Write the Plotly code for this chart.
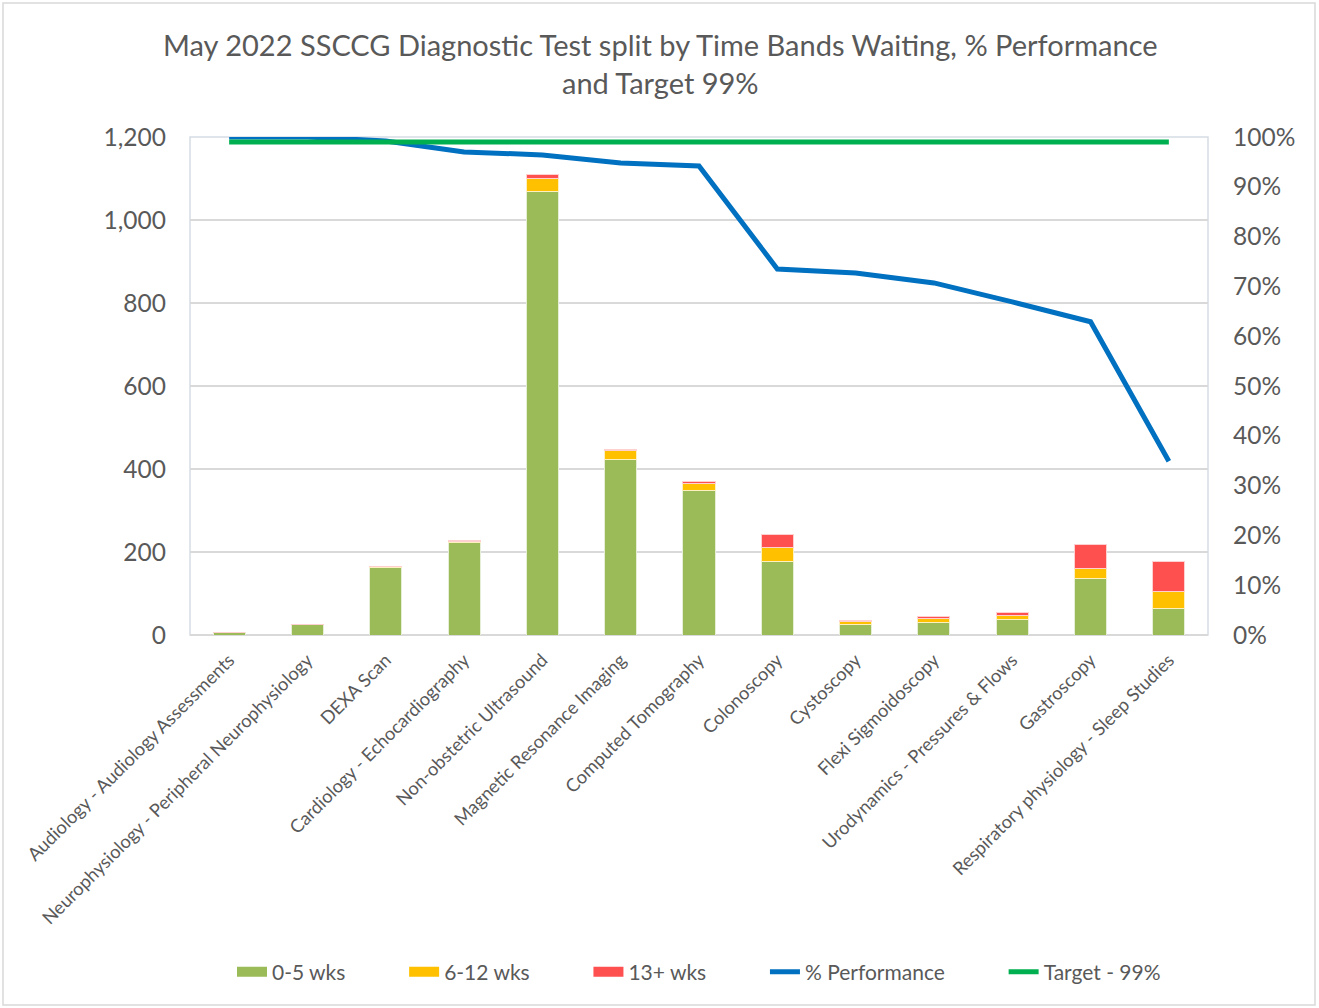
import plotly.graph_objects as go

categories = [
    "Audiology - Audiology Assessments",
    "Neurophysiology - Peripheral Neurophysiology",
    "DEXA Scan",
    "Cardiology - Echocardiography",
    "Non-obstetric Ultrasound",
    "Magnetic Resonance Imaging",
    "Computed Tomography",
    "Colonoscopy",
    "Cystoscopy",
    "Flexi Sigmoidoscopy",
    "Urodynamics - Pressures & Flows",
    "Gastroscopy",
    "Respiratory physiology - Sleep Studies",
]
wks_0_5 = [5, 26, 162, 222, 1069, 424, 349, 177, 25, 29, 38, 137, 63]
wks_6_12 = [0, 0, 2, 3, 31, 20, 16, 33, 7, 11, 9, 24, 43]
wks_13p = [0, 0, 2, 3, 10, 4, 6, 33, 4, 4, 7, 56, 71]
performance = [100, 100, 99.2, 97.0, 96.4, 94.8, 94.2, 73.5, 72.7, 70.7, 66.9, 62.9, 34.9]
target = [99] * len(categories)
series_names = ["0-5 wks", "6-12 wks", "13+ wks", "% Performance", "Target - 99%"]
title_text = "May 2022 SSCCG Diagnostic Test split by Time Bands Waiting, % Performance<br>and Target 99%"

font_family = "Lato"
grey = "#595959"
c_green, c_yellow, c_red = "#9BBB59", "#FFC000", "#FF5050"
pad = "\u00a0" * 10  # spacing between legend entries

fig = go.Figure()
bar_specs = [(series_names[0], wks_0_5, c_green, "#E6EED5"),
             (series_names[1], wks_6_12, c_yellow, "#FFF0C0"),
             (series_names[2], wks_13p, c_red, "#FFD0D0")]
for name, vals, col, edge in bar_specs:
    fig.add_trace(go.Bar(x=categories, y=vals, name=name, legendgroup=name, showlegend=False,
                         marker=dict(color=col, line=dict(color=edge, width=1))))
# legend entries with wide rectangular swatches for the bar series
for name, vals, col, edge in bar_specs:
    fig.add_trace(go.Scatter(x=[None], y=[None], name=name + pad, legendgroup=name, mode="lines",
                             line=dict(color=col, width=12)))
fig.add_trace(go.Scatter(x=categories, y=performance, name=series_names[3] + pad, yaxis="y2",
                         mode="lines", line=dict(color="#0070C0", width=5)))
fig.add_trace(go.Scatter(x=categories, y=target, name=series_names[4], yaxis="y2",
                         mode="lines", line=dict(color="#00B050", width=5)))

fig.update_layout(
    width=1319, height=1008,
    margin=dict(l=190, r=111, t=137, b=373),
    barmode="stack", bargap=0.59,
    paper_bgcolor="white", plot_bgcolor="white",
    font=dict(family=font_family, color=grey),
    xaxis=dict(range=[-0.5, 12.5], tickangle=-45, tickfont=dict(size=18.3, color=grey),
               showgrid=False, showline=False, ticks="", automargin=False,
               ticklabelstandoff=10),
    yaxis=dict(range=[0, 1200], dtick=200, tickformat=",", tickfont=dict(size=24.5, color=grey),
               showgrid=True, gridcolor="#D9D9D9", gridwidth=2, zeroline=True,
               zerolinecolor="#D9D9D9", zerolinewidth=2, ticks="", automargin=False,
               ticklabelstandoff=23),
    yaxis2=dict(range=[0, 100], dtick=10, ticksuffix="%", overlaying="y", side="right",
                tickfont=dict(size=24.5, color=grey), showgrid=False, zeroline=False,
                ticks="", automargin=False, ticklabelstandoff=24),
    legend=dict(orientation="h", x=0.5, xanchor="center", y=-0.677, yanchor="middle",
                font=dict(size=21, color=grey), traceorder="normal"),
    showlegend=True,
)

pw, ph = 1319 - 190 - 111, 1008 - 137 - 373
fig.add_annotation(text=title_text, xref="paper", yref="paper",
                   x=(660 - 190) / pw, y=(635 - 64) / ph, xanchor="center", yanchor="middle",
                   showarrow=False, font=dict(size=29, color=grey, family=font_family))

# plot-area border
fig.add_shape(type="rect", xref="paper", yref="paper", x0=0, x1=1, y0=0, y1=1,
              line=dict(color="#D6DCE5", width=1.5), layer="below")
# outer chart border
fig.add_shape(type="rect", xref="paper", yref="paper",
              x0=(3 - 190) / pw, x1=(1315 - 190) / pw,
              y0=(635 - 1005) / ph, y1=(635 - 3) / ph,
              line=dict(color="#D9D9D9", width=1.5))

fig.write_html("out.html")
